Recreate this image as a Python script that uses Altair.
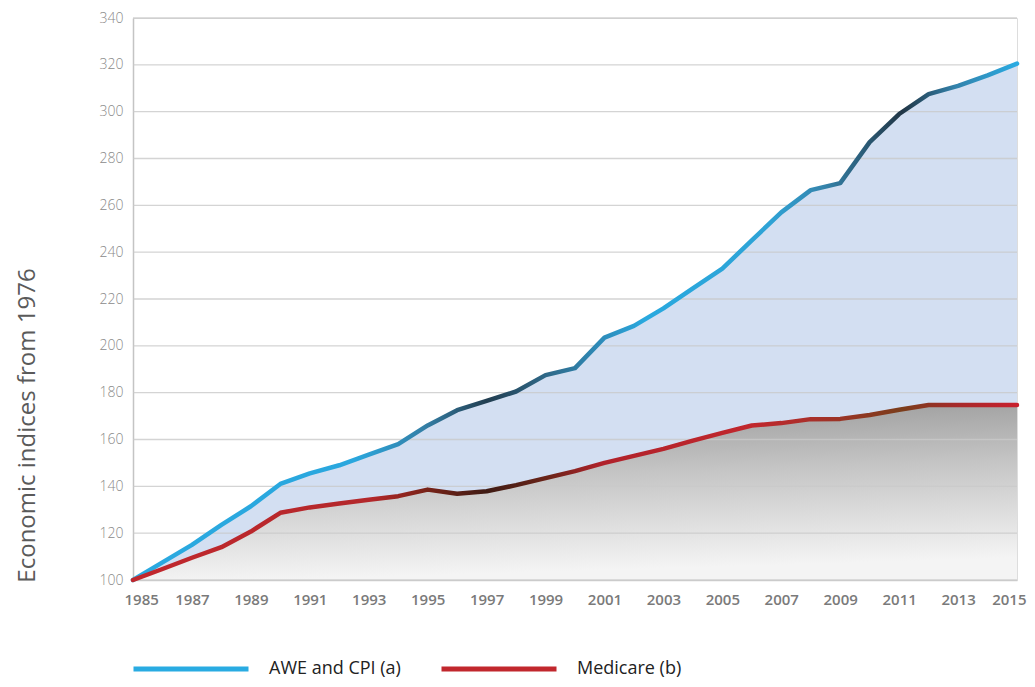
import altair as alt
import pandas as pd

years = list(range(1985, 2016))
awe_cpi = [100, 107.5, 115, 123.5, 131.5, 141, 145.5, 149, 153.5, 158, 166,
           172.5, 176.5, 180.5, 187.5, 190.5, 203.5, 208.5, 216, 224.5, 233,
           245, 257, 266.5, 269.5, 287, 299, 307.5, 311, 315.5, 320.5]
medicare = [100, 104.7, 109.5, 114, 120.7, 128.7, 131, 132.7, 134.3, 135.8, 138.6,
            136.8, 137.9, 140.5, 143.5, 146.5, 150, 153, 156, 159.5, 162.8,
            166, 167, 168.7, 168.8, 170.5, 172.7, 174.7, 174.7, 174.7, 174.7]
series_names = ["AWE and CPI (a)", "Medicare (b)"]
y_ticks = list(range(100, 341, 20))
x_ticks = list(range(1985, 2016, 2))

df = pd.DataFrame({"year": years, "awe": awe_cpi, "medicare": medicare})
long_df = pd.DataFrame({
    "year": years * 2,
    "value": awe_cpi + medicare,
    "series": [series_names[0]] * len(years) + [series_names[1]] * len(years),
})
grid_df = pd.DataFrame({"tick": y_ticks})

FONT = "Open Sans"

x_enc = alt.X("year:Q", scale=alt.Scale(domain=[1985, 2015], nice=False, zero=False),
              axis=alt.Axis(values=x_ticks, format="d", title=None, grid=False,
                            ticks=False, domain=True, domainColor="#cfcfcf", domainWidth=1.5,
                            labelFont=FONT, labelFontSize=15, labelFontWeight=600,
                            labelColor="#7a7a7a", labelPadding=12,
                            labelFlush=True, labelFlushOffset=9))
y_scale = alt.Scale(domain=[100, 340], nice=False, zero=False)
y_axis = alt.Axis(values=y_ticks, title="Economic indices from 1976", grid=False,
                  ticks=False, domain=True, domainColor="#c4c4c4", domainWidth=1.5,
                  labelFont=FONT, labelFontSize=14, labelFontWeight=300,
                  labelColor="#8a8a8a", labelPadding=10,
                  titleFont=FONT, titleFontSize=24, titleFontWeight=400,
                  titleColor="#5a5a5a", titleX=-106, titleY=407,
                  titleBaseline="middle", titleAngle=270)

base = alt.Chart(df)

shadow = base.mark_area(
    color=alt.Gradient(gradient="linear",
                       stops=[alt.GradientStop(color="#969696", offset=0),
                              alt.GradientStop(color="#c4c4c4", offset=0.45),
                              alt.GradientStop(color="#f4f4f4", offset=1)],
                       x1=0, x2=0.15, y1=0, y2=1)
).encode(x=x_enc, y=alt.Y("medicare:Q", scale=y_scale, axis=y_axis), y2=alt.datum(100))

band = base.mark_area(color="#d3dff2").encode(
    x="year:Q", y="awe:Q", y2="medicare:Q")

grid = alt.Chart(grid_df).mark_rule(color="#c9c9c9", strokeWidth=1.3, opacity=0.8).encode(
    y="tick:Q")

blue_line = base.mark_line(
    strokeWidth=4.5, strokeCap="round", strokeJoin="round",
    color=alt.Gradient(gradient="linear",
                       stops=[alt.GradientStop(color="#2aa9e0", offset=0),
                              alt.GradientStop(color="#2aa7de", offset=0.25),
                              alt.GradientStop(color="#347fa6", offset=0.33),
                              alt.GradientStop(color="#223e51", offset=0.40),
                              alt.GradientStop(color="#2f6a8a", offset=0.47),
                              alt.GradientStop(color="#2e8cba", offset=0.53),
                              alt.GradientStop(color="#29a9df", offset=0.58),
                              alt.GradientStop(color="#2ea3d6", offset=0.72),
                              alt.GradientStop(color="#3585ad", offset=0.78),
                              alt.GradientStop(color="#213646", offset=0.87),
                              alt.GradientStop(color="#3382ab", offset=0.93),
                              alt.GradientStop(color="#2aabe2", offset=1)],
                       x1=0, x2=1, y1=0, y2=0)
).encode(x="year:Q", y="awe:Q")

red_line = base.mark_line(
    strokeWidth=4.5, strokeCap="round", strokeJoin="round",
    color=alt.Gradient(gradient="linear",
                       stops=[alt.GradientStop(color="#c1272d", offset=0),
                              alt.GradientStop(color="#b3282b", offset=0.27),
                              alt.GradientStop(color="#7a2318", offset=0.33),
                              alt.GradientStop(color="#3f1c14", offset=0.40),
                              alt.GradientStop(color="#6b2419", offset=0.47),
                              alt.GradientStop(color="#b0222b", offset=0.53),
                              alt.GradientStop(color="#c1272d", offset=0.70),
                              alt.GradientStop(color="#a8302a", offset=0.77),
                              alt.GradientStop(color="#7a3d1b", offset=0.87),
                              alt.GradientStop(color="#a52a2a", offset=0.93),
                              alt.GradientStop(color="#c8202e", offset=1)],
                       x1=0, x2=1, y1=0, y2=0)
).encode(x="year:Q", y="medicare:Q")

legend_layer = alt.Chart(long_df).mark_line(opacity=0).encode(
    x="year:Q", y="value:Q",
    color=alt.Color("series:N",
                    scale=alt.Scale(domain=series_names, range=["#29abe2", "#c1272d"]),
                    legend=alt.Legend(title=None, orient="none", direction="horizontal",
                                      legendX=-2, legendY=591, padding=0,
                                      symbolType="stroke", symbolSize=13225,
                                      symbolStrokeWidth=5, symbolOpacity=1,
                                      labelOffset=18, columnPadding=30,
                                      labelFont=FONT, labelFontSize=18,
                                      labelFontWeight=500, labelColor="#222222",
                                      labelLimit=300)))

chart = alt.layer(shadow, band, grid, blue_line, red_line, legend_layer).properties(
    width=884, height=562,
    autosize=alt.AutoSizeParams(type="none"),
    padding={"left": 125, "top": 10, "right": 10, "bottom": 99},
).configure_view(stroke=None).configure(background="white")

chart.save("out.html", embed_options={"renderer": "svg", "actions": False})
